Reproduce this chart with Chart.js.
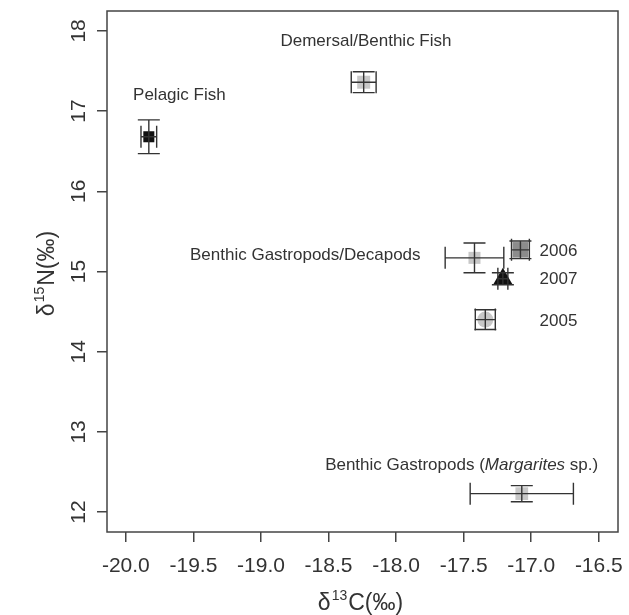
<!DOCTYPE html>
<html>
<head>
<meta charset="utf-8">
<script src="https://cdn.jsdelivr.net/npm/chart.js@4"></script>
<style>
  html, body { margin: 0; padding: 0; background: #fff; }
  #wrap { width: 629px; height: 615px; }
</style>
</head>
<body>
<div id="wrap"><canvas id="myChart"></canvas></div>
<script>
// group data (d13C / d15N, mean and error)
const groups = ["Pelagic Fish", "Demersal/Benthic Fish", "Benthic Gastropods/Decapods", "2006", "2007", "2005", "Benthic Gastropods (Margarites sp.)"];
const d13C = [-19.83, -18.24, -17.42, -17.08, -17.21, -17.34, -17.07];
const d15N = [16.68, 17.36, 15.17, 15.27, 14.91, 14.40, 12.23];
const errC = [0.058, 0.092, 0.217, 0.066, 0.037, 0.074, 0.382];
const errN = [0.21, 0.13, 0.185, 0.11, 0.075, 0.124, 0.10];

const xTicks = [-20.0, -19.5, -19.0, -18.5, -18.0, -17.5, -17.0, -16.5];
const yTicks = [12, 13, 14, 15, 16, 17, 18];

// marker styles per group
const markerStyle = ['rect', 'rect', 'rect', 'rect', 'triangle', 'circle', 'rect'];
const markerColor = ['#111', '#c8c8c8', '#c8c8c8', '#8c8c8c', '#111', '#c8c8c8', '#c8c8c8'];
const markerSize = [7.8, 9.2, 8.5, 11, 11, 8, 9];

// text labels placed in data units
const labels = [
    { text: [["Demersal/Benthic Fish", false]], x: -18.223, y: 17.864, align: 'center' },
    { text: [["Pelagic Fish", false]], x: -19.604, y: 17.194, align: 'center' },
    { text: [["Benthic Gastropods/Decapods", false]], x: -17.819, y: 15.198, align: 'right' },
    { text: [["2006", false]], x: -16.938, y: 15.248, align: 'left' },
    { text: [["2007", false]], x: -16.938, y: 14.901, align: 'left' },
    { text: [["2005", false]], x: -16.938, y: 14.38, align: 'left' },
    { text: [["Benthic Gastropods (", false], ["Margarites", true], [" sp.)", false]], x: -17.515, y: 12.583, align: 'center' }
];

const FONT = '"Liberation Sans", Arial, sans-serif';
const INK = '#333';

let points = [];
for (let i = 0; i < groups.length; i++) {
    points.push({ x: d13C[i], y: d15N[i] });
}

const extras = {
    id: 'extras',
    afterDatasetsDraw(chart) {
        const ctx = chart.ctx;
        const xs = chart.scales.x;
        const ys = chart.scales.y;
        const area = chart.chartArea;
        const cap = 11;

        ctx.save();
        // error bars
        ctx.strokeStyle = INK;
        ctx.lineWidth = 1.4;
        for (let i = 0; i < groups.length; i++) {
            const cx = xs.getPixelForValue(d13C[i]);
            const cy = ys.getPixelForValue(d15N[i]);
            const x1 = xs.getPixelForValue(d13C[i] - errC[i]);
            const x2 = xs.getPixelForValue(d13C[i] + errC[i]);
            const y1 = ys.getPixelForValue(d15N[i] + errN[i]);
            const y2 = ys.getPixelForValue(d15N[i] - errN[i]);
            ctx.beginPath();
            ctx.moveTo(x1, cy); ctx.lineTo(x2, cy);
            ctx.moveTo(x1, cy - cap); ctx.lineTo(x1, cy + cap);
            ctx.moveTo(x2, cy - cap); ctx.lineTo(x2, cy + cap);
            ctx.moveTo(cx, y1); ctx.lineTo(cx, y2);
            ctx.moveTo(cx - cap, y1); ctx.lineTo(cx + cap, y1);
            ctx.moveTo(cx - cap, y2); ctx.lineTo(cx + cap, y2);
            ctx.stroke();
        }

        // box round the plot
        ctx.strokeStyle = '#444';
        ctx.lineWidth = 1.5;
        ctx.strokeRect(area.left, area.top, area.right - area.left, area.bottom - area.top);

        // group labels
        ctx.fillStyle = INK;
        ctx.textBaseline = 'middle';
        for (const lb of labels) {
            let widths = [];
            let total = 0;
            for (const part of lb.text) {
                ctx.font = (part[1] ? 'italic ' : '') + '17px ' + FONT;
                const w = ctx.measureText(part[0]).width;
                widths.push(w);
                total += w;
            }
            let px = xs.getPixelForValue(lb.x);
            const py = ys.getPixelForValue(lb.y);
            if (lb.align === 'center') px -= total / 2;
            else if (lb.align === 'right') px -= total;
            ctx.textAlign = 'left';
            for (let k = 0; k < lb.text.length; k++) {
                ctx.font = (lb.text[k][1] ? 'italic ' : '') + '17px ' + FONT;
                ctx.fillText(lb.text[k][0], px, py);
                px += widths[k];
            }
        }

        // tick labels
        ctx.font = '21px ' + FONT;
        ctx.textBaseline = 'alphabetic';
        ctx.textAlign = 'center';
        for (const v of xTicks) {
            ctx.fillText(v.toFixed(1), xs.getPixelForValue(v), 572);
        }
        for (const v of yTicks) {
            ctx.save();
            ctx.translate(85, ys.getPixelForValue(v));
            ctx.rotate(-Math.PI / 2);
            ctx.fillText(String(v), 0, 0);
            ctx.restore();
        }

        // axis titles with superscripts
        drawTitle(ctx, '13', 'C(‰)', (area.left + area.right) / 2 - 2, 610, 0);
        drawTitle(ctx, '15', 'N(‰)', 54, (area.top + area.bottom) / 2 + 2, -Math.PI / 2);
        ctx.restore();
    }
};

function drawTitle(ctx, sup, rest, x, y, rot) {
    ctx.save();
    ctx.translate(x, y);
    ctx.rotate(rot);
    ctx.font = '23px ' + FONT;
    const wd = ctx.measureText('δ').width;
    const wr = ctx.measureText(rest).width;
    ctx.font = '14px ' + FONT;
    const ws = ctx.measureText(sup).width;
    const total = wd + ws + wr + 2;
    let px = -total / 2;
    ctx.textAlign = 'left';
    ctx.textBaseline = 'alphabetic';
    ctx.font = '23px ' + FONT;
    ctx.fillText('δ', px, 0);
    px += wd + 1;
    ctx.font = '14px ' + FONT;
    ctx.fillText(sup, px, -10);
    px += ws + 1;
    ctx.font = '23px ' + FONT;
    ctx.fillText(rest, px, 0);
    ctx.restore();
}

new Chart(document.getElementById('myChart'), {
    type: 'scatter',
    data: {
        datasets: [{
            label: 'groups',
            data: points,
            pointStyle: markerStyle,
            backgroundColor: markerColor,
            borderColor: markerColor,
            borderWidth: 0,
            pointRadius: markerSize,
            pointHoverRadius: markerSize
        }]
    },
    options: {
        responsive: true,
        maintainAspectRatio: false,
        animation: false,
        events: [],
        layout: { padding: { top: 8, right: 7, left: 0, bottom: 0 } },
        plugins: {
            legend: { display: false },
            tooltip: { enabled: false }
        },
        scales: {
            x: {
                type: 'linear',
                min: -20.1395,
                max: -16.358,
                afterBuildTicks: s => { s.ticks = xTicks.map(v => ({ value: v })); },
                afterFit: s => { s.height = 83; },
                ticks: { display: false },
                border: { display: false },
                grid: { drawOnChartArea: false, drawTicks: true, tickLength: 10, color: '#444', lineWidth: 1.5 }
            },
            y: {
                type: 'linear',
                min: 11.752,
                max: 18.248,
                afterBuildTicks: s => { s.ticks = yTicks.map(v => ({ value: v })); },
                afterFit: s => { s.width = 107; },
                ticks: { display: false },
                border: { display: false },
                grid: { drawOnChartArea: false, drawTicks: true, tickLength: 10, color: '#444', lineWidth: 1.5 }
            }
        }
    },
    plugins: [extras]
});
</script>
</body>
</html>
